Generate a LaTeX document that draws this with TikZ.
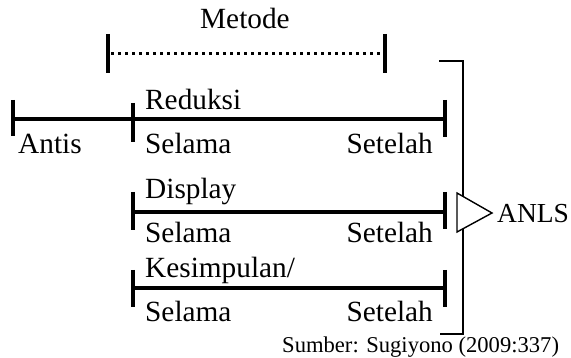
\documentclass[tikz,border=0pt]{standalone}
\usepackage{fontspec}
\setmainfont{Liberation Serif}
\begin{document}
\begin{tikzpicture}[x=1pt,y=-1pt,
  lbl/.style={inner sep=0pt,font=\fontsize{29.3}{34}\selectfont},
  small/.style={inner sep=0pt,font=\fontsize{27.5}{32}\selectfont},
  src/.style={inner sep=0pt,font=\fontsize{22.6}{26}\selectfont},
  tline/.style={line width=3.4pt},
  tick/.style={line width=3.6pt},
  dline/.style={line width=3pt,dash pattern=on 3pt off 4pt},
  brk/.style={line width=2pt},
  tri/.style={draw,line width=1.4pt,fill=white}]
\useasboundingbox (0,0) rectangle (571,358);
% Metode
\node[lbl,anchor=base west] (metode) at (200,29) {Metode};
\coordinate (m1t) at (108,34); \coordinate (m1b) at (108,73);
\coordinate (m2t) at (385,34); \coordinate (m2b) at (385,73);
\coordinate (m1) at (108,54); \coordinate (m2) at (385,54);
\draw[tick] (m1t) -- (m1b);
\draw[tick] (m2t) -- (m2b);
\draw[dline] ([xshift=3pt]m1) -- ([xshift=-2pt]m2);
% Row 1
\coordinate (a0) at (13,119); \coordinate (a1) at (133,119); \coordinate (a2) at (445,119);
\draw[tline] (a0) -- (a2);
\draw[tick] (13,100) -- (13,136);
\draw[tick] (133,103) -- (133,142);
\draw[tick] (445,100) -- (445,137);
\node[lbl,anchor=base west] (antis) at (18,154) {Antis};
\node[lbl,anchor=base west] (reduksi) at (145,110) {Reduksi};
\node[lbl,anchor=base west] (sel1) at (145,154) {Selama};
\node[lbl,anchor=base east] (set1) at (433,154) {Setelah};
% Row 2
\coordinate (b1) at (133,212); \coordinate (b2) at (445,212);
\draw[tline] (b1) -- (b2);
\draw[tick] (133,192) -- (133,230);
\draw[tick] (445,192) -- (445,229);
\node[lbl,anchor=base west] (display) at (145,199) {Display};
\node[lbl,anchor=base west] (sel2) at (145,243) {Selama};
\node[lbl,anchor=base east] (set2) at (433,243) {Setelah};
% Row 3
\coordinate (c1) at (133,288); \coordinate (c2) at (445,288);
\draw[tline] (c1) -- (c2);
\draw[tick] (133,270) -- (133,307);
\draw[tick] (445,270) -- (445,307);
\node[lbl,anchor=base west] (kes) at (145,278) {Kesimpulan/};
\node[lbl,anchor=base west] (sel3) at (145,322) {Selama};
\node[lbl,anchor=base east] (set3) at (433,322) {Setelah};
% Bracket
\coordinate (k1) at (439,61); \coordinate (k2) at (463,61);
\coordinate (k3) at (463,334); \coordinate (k4) at (440,334);
\draw[brk] (k1) -- (k2) -- (k3) -- (k4);
% Triangle
\coordinate (t1) at (457,193); \coordinate (t2) at (492,213); \coordinate (t3) at (457,232);
\filldraw[tri] (t1) -- (t2) -- (t3) -- cycle;
\node[small,anchor=base west] (anls) at (497,223) {ANLS};
% Source
\node[src,anchor=base west] (sumber) at (282,353) {Sumber: Sugiyono (2009:337)};
\end{tikzpicture}
\end{document}
